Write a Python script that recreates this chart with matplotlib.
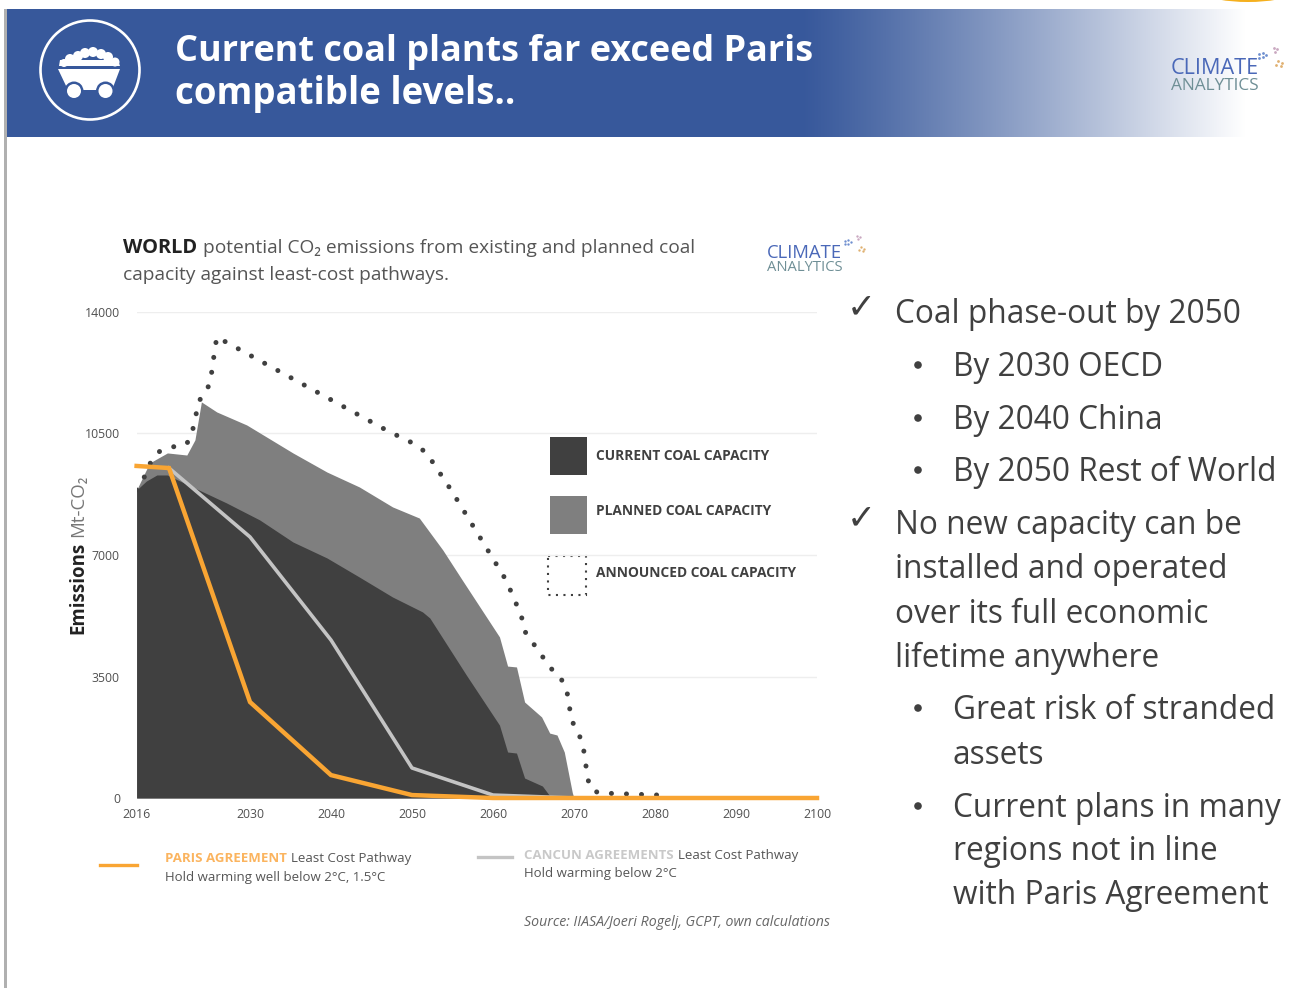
import numpy as np
import matplotlib
matplotlib.use("Agg")
import matplotlib.pyplot as plt
from matplotlib.patches import Circle, Polygon, Rectangle, Ellipse

# =================================================
# DATA
# =================================================
current_years = [2016, 2017.2, 2018.5, 2019.8, 2022.9, 2027.1, 2031.2, 2035.3, 2039.5, 2043.5, 2047.6,
                 2051.3, 2052.2, 2056.7, 2060.8, 2061.8, 2062.9, 2063.9, 2066.1, 2067.2]
current_vals = [8873, 9130, 9305, 9305, 8960, 8500, 8010, 7375, 6915, 6365, 5790,
                5360, 5185, 3545, 2100, 1325, 1295, 575, 345, 0]

planned_years = [2016, 2017.6, 2019.8, 2022.2, 2023.2, 2024.0, 2025.9, 2029.6, 2035.3, 2039.5,
                 2043.5, 2047.6, 2050.9, 2053.8, 2056.2, 2060.8, 2061.8, 2062.9, 2063.9,
                 2066.0, 2067.0, 2067.9, 2068.8, 2069.8, 2070]
planned_vals = [8873, 9650, 9940, 9880, 10315, 11410, 11120, 10745, 9940, 9390,
                8960, 8385, 8065, 7145, 6280, 4640, 3800, 3775, 2765,
                2335, 1870, 1815, 1325, 145, 0]

announced_years = [2016, 2016.9, 2017.7, 2018.7, 2020.4, 2022.2, 2022.9, 2023.7, 2024.5, 2025.1,
                   2025.6, 2025.9, 2047.0, 2050.3, 2051.8, 2054.9, 2061.6, 2062.3, 2063.5,
                   2063.9, 2067.1, 2068.3, 2069.1, 2069.7, 2071.1, 2071.3, 2071.9, 2073.0, 2080.4]
announced_vals = [8873, 9220, 9650, 9970, 10110, 10200, 10575, 11440, 11670, 11985,
                  12820, 13280, 10575, 10200, 9940, 8845, 6280, 5905, 5245,
                  4810, 3745, 3485, 3110, 2245, 1585, 1180, 315, 145, 85]

paris_years = [2016, 2020, 2030, 2040, 2050, 2060, 2100]
paris_vals = [9565, 9505, 2765, 660, 85, 0, 0]

cancun_years = [2020, 2030, 2040, 2050, 2060, 2070, 2100]
cancun_vals = [9505, 7520, 4550, 865, 85, 0, 0]

x_ticks = [2016, 2030, 2040, 2050, 2060, 2070, 2080, 2090, 2100]
y_ticks = [0, 3500, 7000, 10500, 14000]

legend_labels = ["CURRENT COAL CAPACITY", "PLANNED COAL CAPACITY", "ANNOUNCED COAL CAPACITY"]

# kind, text
bullets = [
    ("check", ["Coal phase-out by 2050"]),
    ("dot", ["By 2030 OECD"]),
    ("dot", ["By 2040 China"]),
    ("dot", ["By 2050 Rest of World"]),
    ("check", ["No new capacity can be", "installed and operated",
               "over its full economic", "lifetime anywhere"]),
    ("dot", ["Great risk of stranded", "assets"]),
    ("dot", ["Current plans in many", "regions not in line",
             "with Paris Agreement"]),
]
bullet_baselines = [323, 376, 429, 481, 534, 578, 623, 667, 719, 764, 817, 860, 904]

# =================================================
# COLOURS / FONT
# =================================================
plt.rcParams["font.family"] = ["Open Sans", "DejaVu Sans"]
DARK = "#404040"
MID = "#7f7f7f"
BLUE = "#37589b"
ORANGE = "#f9a533"
GREY_LINE = "#c4c4c4"
TEXT = "#404040"
DOT_STYLE = (0, (0.01, 3.0))

fig = plt.figure(figsize=(13.06, 9.88), dpi=100, facecolor="white")

# slide layer, data units are image pixels
slide = fig.add_axes([0, 0, 1, 1])
slide.set_xlim(0, 1306)
slide.set_ylim(988, 0)
slide.axis("off")


def chain_text(x, y, parts, gap, **kw):
    # draw pieces of one line next to each other
    r = fig.canvas.get_renderer()
    for txt, extra in parts:
        t = slide.text(x, y, txt, va="baseline", **kw, **extra)
        x = t.get_window_extent(r).x1 + gap
    return x


# =================================================
# HEADER
# =================================================
slide.add_patch(Rectangle((4, 9), 3, 979, color="#b0b0b0", lw=0))
grad = np.ones((1, 600, 3))
c0 = np.array(matplotlib.colors.to_rgb(BLUE))
pos = np.linspace(0, 1, 600)
for i, p in enumerate(pos):
    grad[0, i] = c0 + (1 - c0) * p ** 1.15
slide.add_patch(Rectangle((7, 9), 794, 128, color=BLUE, lw=0))
slide.imshow(grad, extent=(800, 1245, 137, 9), aspect="auto", zorder=1)
slide.set_xlim(0, 1306)
slide.set_ylim(988, 0)
slide.add_patch(Ellipse((1248, -6), 80, 16, color="#f5b01e", lw=0))

slide.text(175, 61, "Current coal plants far exceed Paris", color="white",
           fontsize=25.9, fontweight="bold", zorder=3)
slide.text(175, 104, "compatible levels..", color="white",
           fontsize=26.4, fontweight="bold", zorder=3)

# coal wagon icon
slide.add_patch(Circle((90, 70), 49.5, fill=False, ec="white", lw=1.9, zorder=3))
for cx, cy, cr in [(64, 63, 4), (70, 59, 5), (78, 56, 5), (85, 53, 5), (93, 52, 5),
                   (101, 54, 5), (108, 57, 5), (115, 62, 4.5)]:
    slide.add_patch(Circle((cx, cy), cr, color="white", lw=0, zorder=3))
slide.add_patch(Polygon([(59, 66), (60, 60), (118, 60), (120, 66)], color="white", lw=0, zorder=3))
slide.add_patch(Polygon([(58, 69), (120, 69), (112, 90), (68, 90)], color="white", lw=0, zorder=3))
for wx in (74, 105.5):
    slide.add_patch(Circle((wx, 91), 9.5, color=BLUE, lw=0, zorder=4))
    slide.add_patch(Circle((wx, 91), 7, color="white", lw=0, zorder=5))


def logo(x, y1, y2, size1, size2, ox, scale):
    slide.text(x, y1, "CLIMATE", color="#4a68b8", fontsize=size1, zorder=3)
    slide.text(x, y2, "ANALYTICS", color="#6f8f96", fontsize=size2, zorder=3)
    for rx, ry, col in [(0, -17, "#6f8fd0"), (-4, -16, "#6f8fd0"), (-4, -20, "#6f8fd0"),
                        (0, -21, "#6f8fd0"), (3, -19, "#6f8fd0"),
                        (11, -26, "#c9a8c0"), (14, -25, "#c9a8c0"), (12, -22, "#c9a8c0"),
                        (15, -13, "#e0b070"), (19, -11, "#e0b070"), (13, -9, "#e0b070"),
                        (18, -8, "#e0b070")]:
        slide.plot(ox + rx * scale, y1 + ry * scale, "o", ms=2.0 * scale, color=col, mew=0, zorder=3)


logo(1171, 74, 90, 15.6, 12.4, 1263, 1)
logo(767, 258, 270.5, 13.3, 10.6, 848, 0.85)

# =================================================
# CHART
# =================================================
ax = fig.add_axes([136.6 / 1306, (988 - 798) / 988, 680.4 / 1306, 486 / 988])
ax.patch.set_alpha(0)
ax.set_xlim(2016, 2100)
ax.set_ylim(0, 14000)
for s in ax.spines.values():
    s.set_visible(False)
ax.set_xticks(x_ticks)
ax.set_yticks(y_ticks)
ax.tick_params(length=0, labelsize=8.8, labelcolor="#505050")
ax.tick_params(axis="x", pad=7.5)
ax.tick_params(axis="y", pad=12)
ax.yaxis.grid(True, color="#eeeeee", lw=1)
ax.set_axisbelow(True)

ax.fill_between(planned_years, planned_vals, color=MID, lw=0, zorder=2)
ax.fill_between(current_years, current_vals, color=DARK, lw=0, zorder=3)
ax.plot(announced_years, announced_vals, color=DARK, lw=3.6, ls=DOT_STYLE,
        dash_capstyle="round", zorder=4)
ax.plot(cancun_years, cancun_vals, color=GREY_LINE, lw=2.6, zorder=5, clip_on=False)
ax.plot(paris_years, paris_vals, color=ORANGE, lw=3.2, zorder=6, clip_on=False,
        solid_joinstyle="miter")

# chart heading
x_end = chain_text(123, 253, [("WORLD", {"fontweight": "bold", "color": "#222222", "fontsize": 14.4})], 6)
chain_text(x_end, 253, [("potential CO₂ emissions from existing and planned coal",
                         {"color": "#555555", "fontsize": 13.8})], 0)
slide.text(123, 280, "capacity against least-cost pathways.", fontsize=13.8, color="#555555")

# y axis title
yl1 = slide.text(78, 634, "Emissions", rotation=90, ha="center", va="bottom", fontsize=13.4,
                 fontweight="bold", color="#222222")
ext = yl1.get_window_extent(fig.canvas.get_renderer())
slide.text(78, 634 - ext.height - 5, "Mt-CO₂", rotation=90, ha="center", va="bottom",
           fontsize=13.4, color="#777777")

# capacity legend
slide.add_patch(Rectangle((550, 437), 37, 38, color=DARK, lw=0))
slide.add_patch(Rectangle((550, 496), 37, 38, color=MID, lw=0))
slide.add_patch(Rectangle((547.5, 556), 38, 39, fill=False, ec=DARK, lw=1.5, ls=(0, (1, 2.6))))
for lab, ly in zip(legend_labels, [460, 515, 577]):
    slide.text(596, ly, lab, fontsize=9.9, fontweight="bold", color=TEXT)

# pathway legend
slide.plot([100, 137], [865, 865], color=ORANGE, lw=2.4)
chain_text(165, 862, [("PARIS AGREEMENT", {"fontweight": "bold", "color": "#fbb45f"}),
                      ("Least Cost Pathway", {"color": "#555555"})], 4, fontsize=9.5)
slide.text(165, 881, "Hold warming well below 2°C, 1.5°C", fontsize=9.5, color="#555555")

slide.plot([478, 512], [857, 857], color=GREY_LINE, lw=2.4)
chain_text(524, 859, [("CANCUN AGREEMENTS", {"fontweight": "bold", "color": "#c9c9c9"}),
                      ("Least Cost Pathway", {"color": "#555555"})], 4, fontsize=9.5)
slide.text(524, 877, "Hold warming below 2°C", fontsize=9.5, color="#555555")

slide.text(524, 926, "Source: IIASA/Joeri Rogelj, GCPT, own calculations", fontsize=10.2,
           style="italic", color="#666666")

# =================================================
# RIGHT TEXT
# =================================================
k = 0
for kind, lines in bullets:
    tx = 895 if kind == "check" else 953
    if kind == "check":
        slide.text(861, bullet_baselines[k] - 6, "✓", fontsize=25, color=TEXT, ha="center",
                   family="DejaVu Sans")
    else:
        slide.add_patch(Circle((918, bullet_baselines[k] - 11), 3.8, color=TEXT, lw=0))
    for line in lines:
        slide.text(tx, bullet_baselines[k], line, fontsize=22.8, color=TEXT)
        k += 1

fig.savefig("out.png", dpi=100)
